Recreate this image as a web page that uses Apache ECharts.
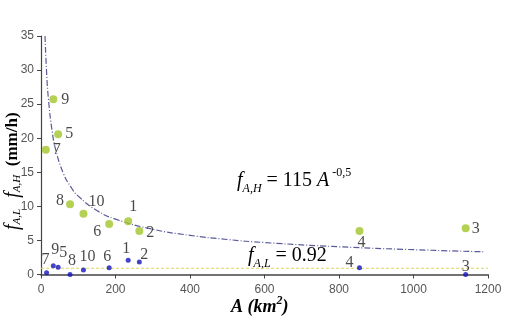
<!DOCTYPE html>
<html><head><meta charset="utf-8">
<script src="https://cdn.jsdelivr.net/npm/echarts@6/dist/echarts.min.js"></script>
<style>html,body{margin:0;padding:0;background:#fff}#c{width:506px;height:318px}</style>
</head><body><div id="c"></div>
<script>
// Data
var stationIds = ['7','9','5','8','10','6','1','2','4','3'];
var areaKm2   = [13, 33, 46, 78, 114, 183, 234, 264, 855, 1140];
var fAH       = [18.3, 25.7, 20.6, 10.3, 8.9, 7.4, 7.8, 6.4, 6.4, 6.8];
var areaKm2L  = [15, 33, 46, 78, 114, 183, 234, 264, 855, 1140];
var fAL       = [0.27, 1.3, 1.05, 0.0, 0.65, 1.0, 2.1, 1.85, 1.0, 0.0];
// fitted curve f = 115 A^-0.5
var curveA = [10.8, 15, 20, 30, 40, 60, 80, 100, 150, 200, 300, 400, 500, 600, 800, 1000, 1190];
var curveF = [35.0, 29.69, 25.71, 21.0, 18.18, 14.85, 12.86, 11.5, 9.39, 8.13, 6.64, 5.75, 5.14, 4.69, 4.07, 3.64, 3.33];
var lineLA = [0, 1200];
var lineLF = [0.92, 0.92];
var xTicks = [0, 200, 400, 600, 800, 1000, 1200];
var yTicks = [0, 5, 10, 15, 20, 25, 30, 35];

var greenOff = [[11,0],[12,0],[11,0],[-10,-4],[13,-12],[-12,8],[5,-15],[11,2],[2,12],[10,1]];
var blueOff  = [[-1,-13],[2,-16],[5,-15],[2,-14],[4,-13],[-2,-11],[-2,-11],[5,-7],[-10,-5],[0,-8]];

function pts(xs, ys, offs){
  return xs.map(function(x,i){
    return {value:[x, ys[i]], name: stationIds[i],
      label:{show:true, position:'inside', offset:offs[i], formatter: stationIds[i]}};
  });
}
function pairs(xs, ys){ return xs.map(function(x,i){return [x, ys[i]];}); }

var serif = '"Liberation Serif","DejaVu Serif",serif';
var lbl = {fontFamily: serif, fontSize: 16, color: '#1a1a1a', align:'center', verticalAlign:'middle'};
var sans = '"Liberation Sans",Arial,sans-serif';

var chart = echarts.init(document.getElementById('c'));
chart.setOption({
  animation:false,
  grid:{left:41, right:18, top:36, bottom:43.5},
  xAxis:{type:'value', min:xTicks[0], max:xTicks[xTicks.length-1], interval:200,
    axisLine:{lineStyle:{color:'#444', width:1.5}}, axisTick:{show:true, length:4, lineStyle:{color:'#444'}},
    splitLine:{show:false},
    axisLabel:{color:'#555', fontFamily:sans, fontSize:12, margin:9, formatter:function(v){return String(v);}}},
  yAxis:{type:'value', min:yTicks[0], max:yTicks[yTicks.length-1], interval:5,
    axisLine:{show:true, lineStyle:{color:'#444', width:1.2}}, axisTick:{show:true, length:4, lineStyle:{color:'#444'}},
    splitLine:{show:false},
    axisLabel:{color:'#555', fontFamily:sans, fontSize:12, margin:7}},
  series:[
    {type:'line', data:pairs(curveA, curveF), smooth:true, showSymbol:false, symbol:'none',
      lineStyle:{color:'#5a5a9a', width:1.2, type:[6,2,1,2]}, z:2},
    {type:'line', data:pairs(lineLA, lineLF), showSymbol:false, symbol:'none',
      lineStyle:{color:'#d8d860', width:1.2, type:[3,2]}, z:2},
    {type:'scatter', data:pts(areaKm2, fAH, greenOff), symbolSize:8,
      itemStyle:{color:'#a2c62a'}, label:lbl, z:3},
    {type:'scatter', data:pts(areaKm2L, fAL, blueOff), symbolSize:5,
      itemStyle:{color:'#1414bb'}, label:lbl, z:3}
  ],
  graphic:[
    {type:'text', left:237, top:167, style:{
      text:'{f|f}{s|A,H}{e| = 115 }{a|A}{p| -0,5}',
      rich:{
        f:{fontFamily:serif, fontStyle:'italic', fontSize:20, color:'#1a1a1a', lineHeight:28, verticalAlign:'middle'},
        s:{fontFamily:serif, fontStyle:'italic', fontSize:12, color:'#1a1a1a', lineHeight:28, verticalAlign:'bottom'},
        e:{fontFamily:serif, fontSize:20, color:'#1a1a1a', lineHeight:28, verticalAlign:'middle'},
        a:{fontFamily:serif, fontStyle:'italic', fontSize:20, color:'#1a1a1a', lineHeight:28, verticalAlign:'middle'},
        p:{fontFamily:serif, fontSize:12, color:'#1a1a1a', lineHeight:28, verticalAlign:'top'}
      }}},
    {type:'text', left:248, top:246, style:{
      text:'{f|f}{s|A,L}{e| = 0.92}',
      rich:{
        f:{fontFamily:serif, fontStyle:'italic', fontSize:20, color:'#1a1a1a', lineHeight:28, verticalAlign:'middle'},
        s:{fontFamily:serif, fontStyle:'italic', fontSize:12, color:'#1a1a1a', lineHeight:28, verticalAlign:'bottom'},
        e:{fontFamily:serif, fontSize:20, color:'#1a1a1a', lineHeight:28, verticalAlign:'middle'}
      }}},
    {type:'text', x:2, y:230, rotation:Math.PI/2, style:{
      text:'{f|f}{s|A,L}{g|    }{f|f}{s|A,H}{b|  (mm/h)}',
      rich:{
        f:{fontFamily:serif, fontStyle:'italic', fontSize:20, color:'#1a1a1a', lineHeight:21, verticalAlign:'middle'},
        s:{fontFamily:serif, fontStyle:'italic', fontSize:11, color:'#1a1a1a', lineHeight:21, verticalAlign:'bottom'},
        g:{fontSize:10, lineHeight:21},
        b:{fontFamily:serif, fontWeight:'bold', fontSize:17, color:'#1a1a1a', lineHeight:21, verticalAlign:'middle'}
      }}},
    {type:'text', left:231, top:295, style:{
      text:'{a|A (km}{p|2}{a|)}',
      rich:{
        a:{fontFamily:serif, fontStyle:'italic', fontWeight:'bold', fontSize:18, color:'#1a1a1a', lineHeight:24, verticalAlign:'middle'},
        p:{fontFamily:serif, fontStyle:'italic', fontWeight:'bold', fontSize:12, color:'#1a1a1a', lineHeight:24, verticalAlign:'top'}
      }}}
  ]
});
</script></body></html>
